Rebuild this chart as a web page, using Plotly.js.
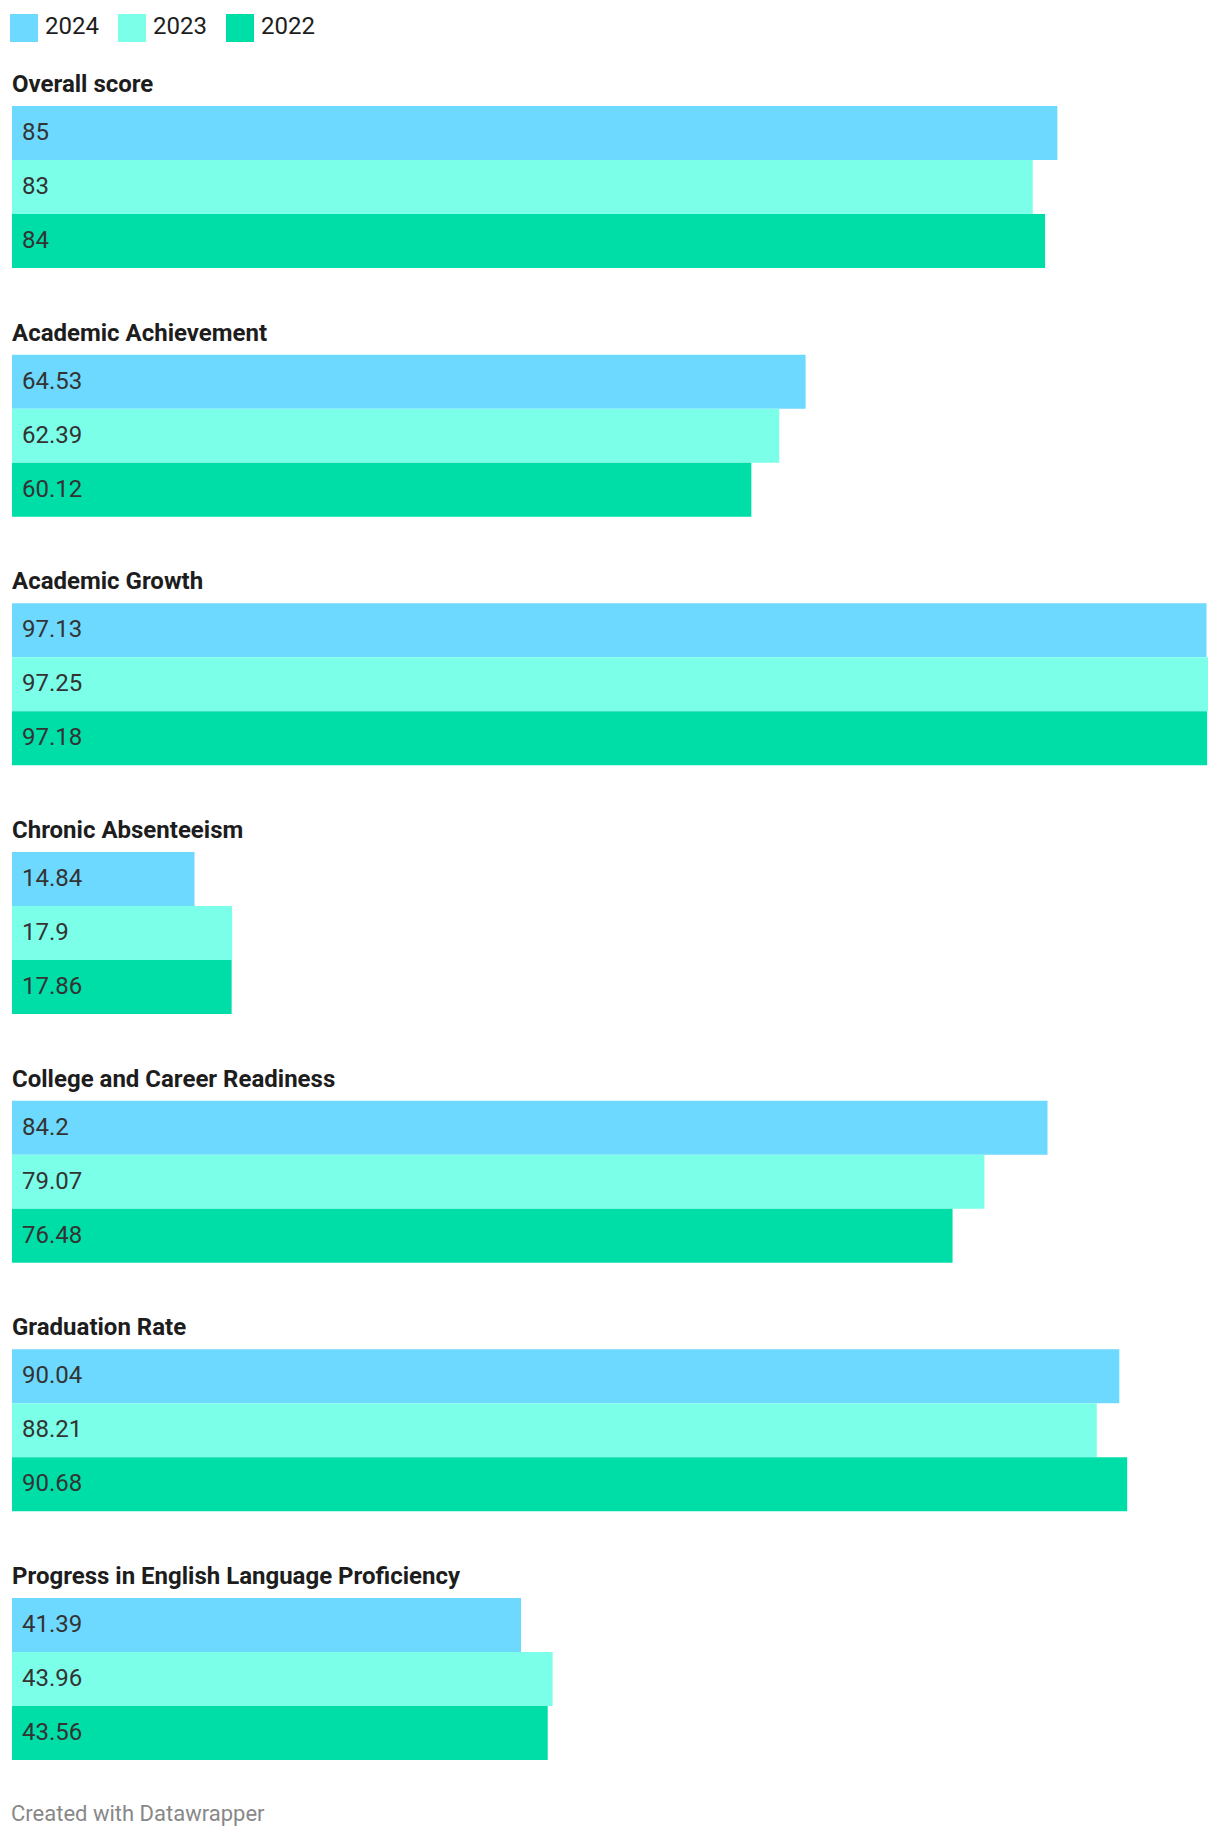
<!DOCTYPE html>
<html>
<head>
<meta charset="utf-8">
<script src="https://cdn.plot.ly/plotly-3.0.1.min.js"></script>
<style>
  html, body { margin: 0; padding: 0; background: #fff; }
  #chart { width: 1220px; height: 1836px; }
</style>
</head>
<body>
<div id="chart"></div>
<script>
// ---- data ----
const categories = [
  "Overall score",
  "Academic Achievement",
  "Academic Growth",
  "Chronic Absenteeism",
  "College and Career Readiness",
  "Graduation Rate",
  "Progress in English Language Proficiency"
];
const years = ["2024", "2023", "2022"];
const values2024 = [85, 64.53, 97.13, 14.84, 84.2, 90.04, 41.39];
const values2023 = [83, 62.39, 97.25, 17.9, 79.07, 88.21, 43.96];
const values2022 = [84, 60.12, 97.18, 17.86, 76.48, 90.68, 43.56];
const seriesValues = [values2024, values2023, values2022];
const footerText = "Created with Datawrapper";

// ---- styling / layout ----
const colors = ["#6ed9fe", "#7bffe9", "#00dea8"];
const W = 1220, H = 1836;
const mL = 12, mR = 12, mT = 106, mB = 76;
const plotW = W - mL - mR, plotH = H - mT - mB;
const S = 248.67 / 54; // group stride in bar units
const yMax = (categories.length - 1) * S + 2.5;
const maxVal = Math.max(...seriesValues.flat());

function px2x(px) { return (px - mL) / plotW; }
function px2y(py) { return 1 - (py - mT) / plotH; }

const traces = years.map((yr, j) => ({
  type: "bar",
  orientation: "h",
  name: yr,
  x: seriesValues[j],
  y: categories.map((c, i) => i * S + j),
  width: 1,
  marker: { color: colors[j], line: { width: 0 } },
  hoverinfo: "skip",
  showlegend: false
}));

const annotations = [];
const shapes = [];

// group titles
categories.forEach((c, i) => {
  annotations.push({
    xref: "x", yref: "y", x: 0, y: i * S,
    xanchor: "left", yanchor: "bottom", yshift: 33, xshift: -2,
    text: "<b>" + c + "</b>", showarrow: false,
    font: { family: "Roboto", size: 24, color: "#1d1d1d" }
  });
});

// value labels
seriesValues.forEach((vals, j) => {
  vals.forEach((v, i) => {
    annotations.push({
      xref: "x", yref: "y", x: 0, y: i * S + j,
      xanchor: "left", yanchor: "middle", xshift: 8, yshift: 1,
      text: String(v), showarrow: false,
      font: { family: "Roboto", size: 24, color: "#333333" }
    });
  });
});

// legend
const legendBoxX = [10, 118, 226];
years.forEach((yr, j) => {
  shapes.push({
    type: "rect", xref: "paper", yref: "paper",
    x0: px2x(legendBoxX[j]), x1: px2x(legendBoxX[j] + 28),
    y0: px2y(14), y1: px2y(42),
    fillcolor: colors[j], line: { width: 0 }
  });
  annotations.push({
    xref: "paper", yref: "paper",
    x: px2x(legendBoxX[j] + 33), y: px2y(26),
    xanchor: "left", yanchor: "middle",
    text: yr, showarrow: false,
    font: { family: "Roboto", size: 24, color: "#1d1d1d" }
  });
});

// footer
annotations.push({
  xref: "paper", yref: "paper",
  x: px2x(9), y: px2y(1813),
  xanchor: "left", yanchor: "middle",
  text: footerText, showarrow: false,
  font: { family: "Roboto", size: 22, color: "#888888" }
});

const layout = {
  width: W, height: H,
  margin: { l: mL, r: mR, t: mT, b: mB, pad: 0 },
  paper_bgcolor: "#ffffff", plot_bgcolor: "#ffffff",
  barmode: "overlay",
  showlegend: false,
  hovermode: false,
  font: { family: "Roboto" },
  xaxis: { range: [0, maxVal], visible: false, fixedrange: true },
  yaxis: { range: [yMax, -0.5], visible: false, fixedrange: true },
  annotations: annotations,
  shapes: shapes
};

Plotly.newPlot("chart", traces, layout, { displayModeBar: false, staticPlot: true });
</script>
</body>
</html>
